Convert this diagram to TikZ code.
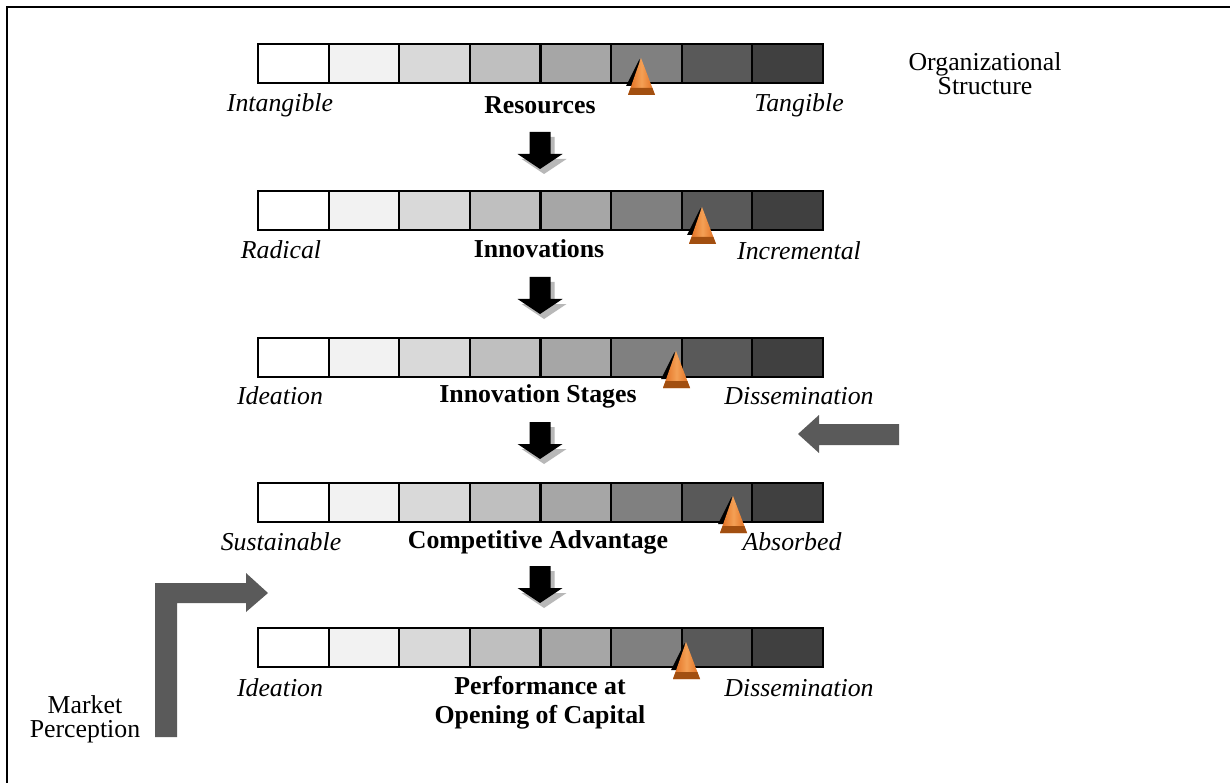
\documentclass[tikz,border=0pt]{standalone}
\usepackage{fontspec}
\setmainfont{Liberation Serif}
\definecolor{c1}{HTML}{FFFFFF}
\definecolor{c2}{HTML}{F2F2F2}
\definecolor{c3}{HTML}{D9D9D9}
\definecolor{c4}{HTML}{BFBFBF}
\definecolor{c5}{HTML}{A6A6A6}
\definecolor{c6}{HTML}{808080}
\definecolor{c7}{HTML}{595959}
\definecolor{c8}{HTML}{404040}
\definecolor{arrgray}{HTML}{5A5A5A}
\definecolor{shadowgray}{HTML}{B8B8B8}
\definecolor{or1}{HTML}{E06A1C}
\definecolor{or2}{HTML}{F4A055}
\definecolor{orbrown}{HTML}{A24F10}
\begin{document}
\begin{tikzpicture}[x=1pt,y=-1pt,
  cell/.style={draw=black,line width=2pt,minimum width=70.6pt,minimum height=39pt,inner sep=0pt,anchor=north west},
  lbl/.style={font=\fontsize{25.8}{24}\selectfont,inner sep=0pt,align=center},
  ilbl/.style={lbl,font=\fontsize{25.8}{24}\selectfont\itshape},
  blbl/.style={lbl,font=\fontsize{25.8}{29}\selectfont\bfseries},
  marker/.pic={
    \fill[black] (-1.5,1) -- (-15,28) -- (0,28) -- cycle;
    \shade[left color=or1,right color=or1,middle color=or2] (0,0) -- (-13,37) -- (14,37) -- cycle;
    \fill[orbrown] (-10.4,30) -- (11.4,30) -- (14,37) -- (-13,37) -- cycle;
  },
  downarrow/.pic={
    \fill[shadowgray,shift={(4,5)}] (-10.5,0) -- (10.5,0) -- (10.5,22) -- (22.5,22) -- (0,37) -- (-22.5,22) -- (-10.5,22) -- cycle;
    \fill[black] (-10.5,0) -- (10.5,0) -- (10.5,22) -- (22.5,22) -- (0,37) -- (-22.5,22) -- (-10.5,22) -- cycle;
  }]
\useasboundingbox (0,0) rectangle (1230,783);
\fill[white] (0,0) rectangle (1230,783);
\draw[line width=2pt] (7,783) -- (7,7) -- (1230,7);

% bars
\foreach \b/\yy in {1/43,2/190,3/337,4/482,5/627}{
  \foreach \i/\col in {1/c1,2/c2,3/c3,4/c4,5/c5,6/c6,7/c7,8/c8}{
    \node[cell,fill=\col] (b\b c\i) at ({257+(\i-1)*70.625},\yy) {};
  }
}

% markers
\pic at (641,58) {marker};
\pic at (702,207) {marker};
\pic at (676,351) {marker};
\pic at (733,496) {marker};
\pic at (686,642) {marker};

% down arrows
\pic at (540,132) {downarrow};
\pic at (540,277) {downarrow};
\pic at (540,422) {downarrow};
\pic at (540,566) {downarrow};

% gray arrows
\fill[arrgray] (899,424) -- (819,424) -- (819,415) -- (798,434) -- (819,453) -- (819,445) -- (899,445) -- cycle;
\fill[arrgray] (155,737) -- (155,583) -- (246,583) -- (246,573) -- (268,593) -- (246,612) -- (246,603) -- (177,603) -- (177,737) -- cycle;

% labels
\node[ilbl] (l1a) at (280,105) {Intangible};
\node[blbl] (l1b) at (540,105) {Resources};
\node[ilbl] (l1c) at (799,105) {Tangible};
\node[lbl] (org) at (985,74) {Organizational\\Structure};

\node[ilbl] (l2a) at (281,250) {Radical};
\node[blbl] (l2b) at (539,249) {Innovations};
\node[ilbl] (l2c) at (799,251) {Incremental};

\node[ilbl] (l3a) at (280,396) {Ideation};
\node[blbl] (l3b) at (538,396) {Innovation Stages};
\node[ilbl] (l3c) at (799,396) {Dissemination};

\node[ilbl] (l4a) at (281,542) {Sustainable};
\node[blbl] (l4b) at (538,542) {Competitive Advantage};
\node[ilbl] (l4c) at (792,542) {Absorbed};

\node[ilbl] (l5a) at (280,688) {Ideation};
\node[blbl] (l5b) at (540,703) {Performance at\\Opening of Capital};
\node[ilbl] (l5c) at (799,688) {Dissemination};

\node[lbl] (mkt) at (85,719) {Market\\Perception};
\end{tikzpicture}
\end{document}
